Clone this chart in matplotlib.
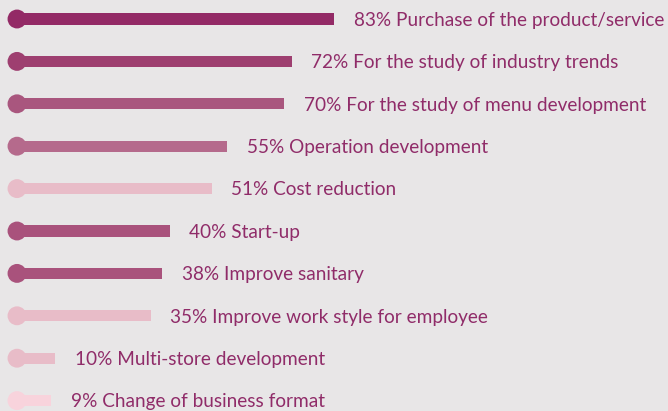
import matplotlib
matplotlib.use("Agg")
import matplotlib.pyplot as plt

labels = ["Purchase of the product/service", "For the study of industry trends",
          "For the study of menu development", "Operation development",
          "Cost reduction", "Start-up", "Improve sanitary",
          "Improve work style for employee", "Multi-store development",
          "Change of business format"]
values = [83, 72, 70, 55, 51, 40, 38, 35, 10, 9]
colors = ["#932a66", "#9e3f70", "#a9567e", "#b56a8c", "#e8bcc8",
          "#a9527c", "#a9527c", "#e8bcc8", "#e8bcc8", "#f8d3dc"]

BG = "#e8e6e7"
TXT = "#902c69"

fig = plt.figure(figsize=(6.68, 4.11), dpi=100, facecolor=BG)
ax = fig.add_axes([0, 0, 1, 1], facecolor=BG)

rows = list(range(len(values)))
ax.barh(rows, values, height=0.26, color=colors, left=0)
ax.scatter([0] * len(values), rows, s=185, color=colors, zorder=3, linewidths=0)

for i, (v, lab) in enumerate(zip(values, labels)):
    ax.annotate(f"{v}% {lab}", (v, i), xytext=(14, -1), textcoords="offset points",
                va="center", ha="left", color=TXT, fontsize=13.7, family="Lato")

ax.set_xlim(-17 / 3.82, (668 - 17) / 3.82)
ax.set_ylim((411 - 19) / 42.4, -19 / 42.4)
ax.axis("off")

fig.savefig("out.png", dpi=100, facecolor=BG)
